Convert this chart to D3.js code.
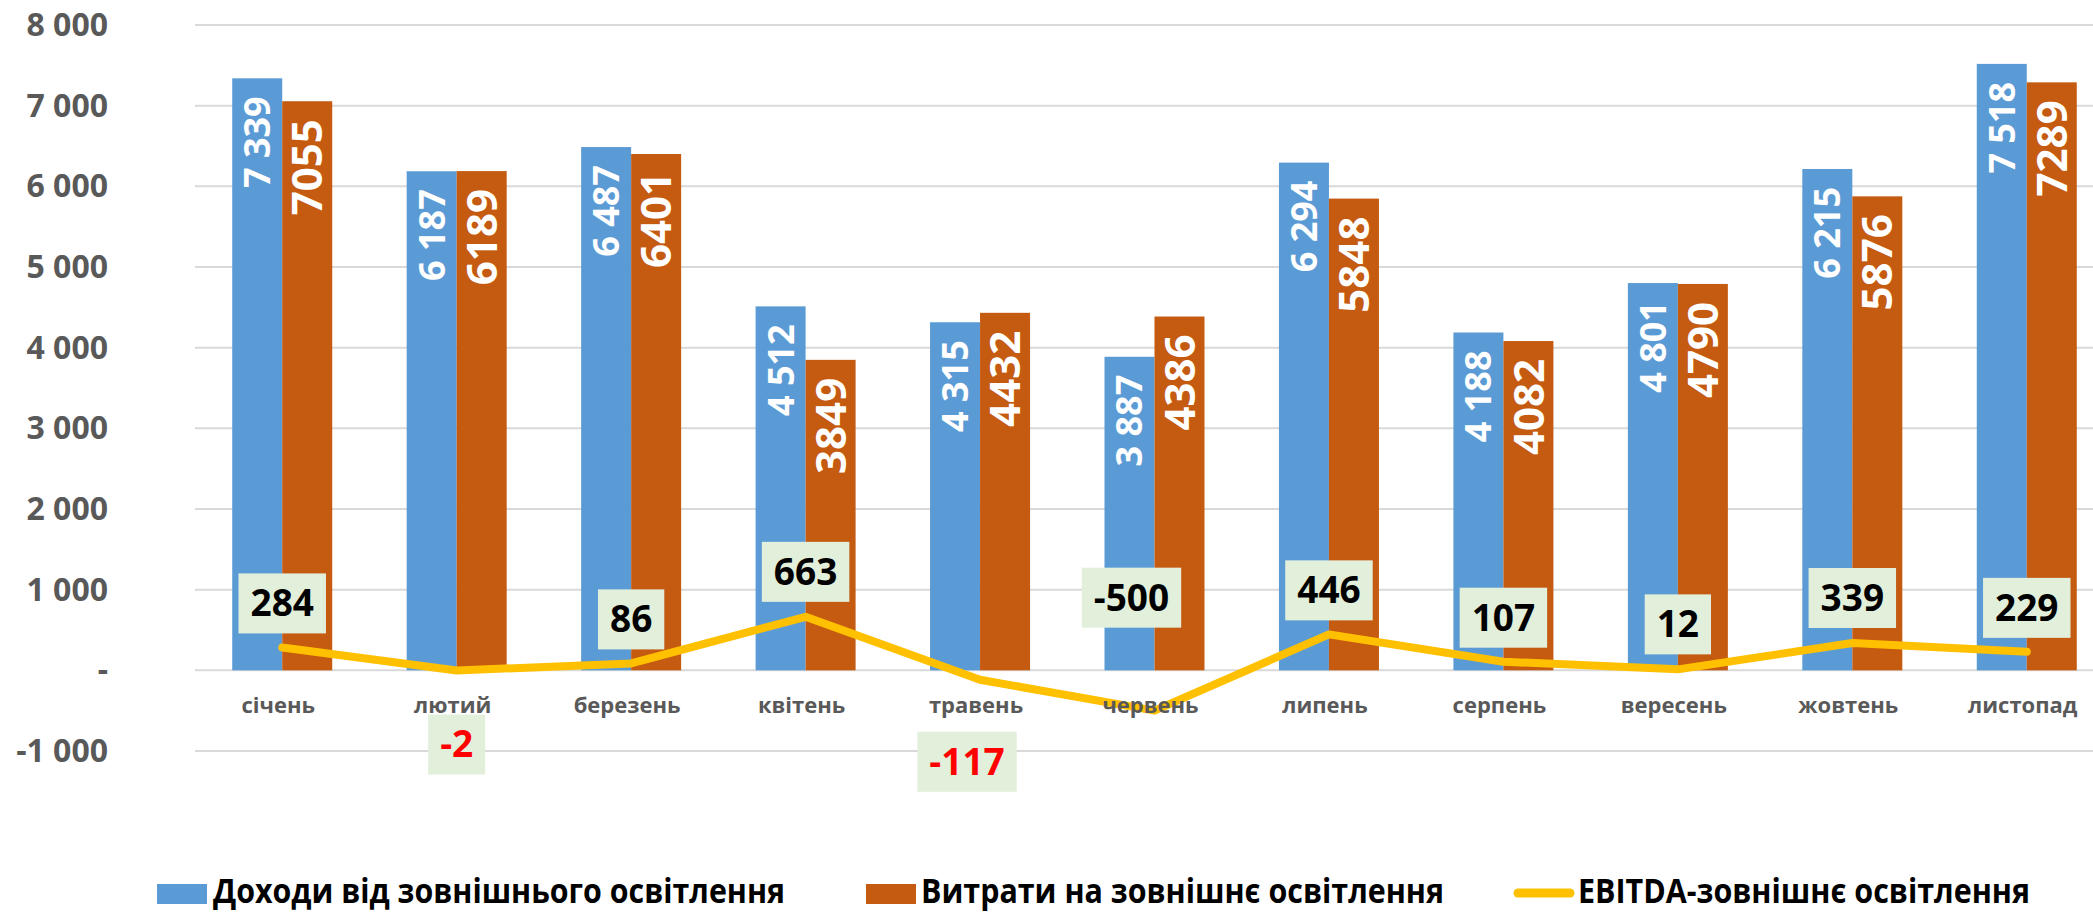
<!DOCTYPE html>
<html>
<head>
<meta charset="utf-8">
<script src="https://cdn.jsdelivr.net/npm/d3@7"></script>
<style>
  body { margin: 0; background: #fff; }
  svg { display: block; }
  text { font-family: "Open Sans", "DejaVu Sans", sans-serif; font-weight: 700; }
</style>
</head>
<body>
<div id="chart"></div>
<script>
// monthly data, thousands UAH
const months = ["січень", "лютий", "березень", "квітень", "травень", "червень",
  "липень", "серпень", "вересень", "жовтень", "листопад"];
const income = [7339, 6187, 6487, 4512, 4315, 3887, 6294, 4188, 4801, 6215, 7518];
const expenses = [7055, 6189, 6401, 3849, 4432, 4386, 5848, 4082, 4790, 5876, 7289];
const ebitda = [284, -2, 86, 663, -117, -500, 446, 107, 12, 339, 229];
const yTicks = [-1000, 0, 1000, 2000, 3000, 4000, 5000, 6000, 7000, 8000];
const seriesNames = ["Доходи від зовнішнього освітлення", "Витрати на зовнішнє освітлення", "EBITDA-зовнішнє освітлення"];

// where the EBITDA boxes were dragged to (offset of box centre from point)
const boxDy = [-44, 74, -44, -45, 82, -113, -44, -44, -45, -45, -44];
const boxDx = [0, 0, 0, 0, -13, -23, 0, 0, 0, 0, 0];
const redLabels = [false, true, false, false, true, false, false, false, false, false, false];

const W = 2093, H = 912;
const blue = "#5B9BD5", orange = "#C55A11", gold = "#FFC000";

const svg = d3.select("#chart").append("svg")
  .attr("width", W)
  .attr("height", H);

const x0 = d3.scaleBand().domain(months).range([195, 2114]);
const bw = x0.bandwidth();
const x1 = d3.scaleBand().domain([0, 1]).range([(bw - 100) / 2, (bw + 100) / 2]);
const y = d3.scaleLinear().domain([-1000, 8000]).range([751, 25]);

// excel-ish: space thousands, plain hyphen, dash for zero
const fmtSpace = v => v === 0 ? "-" : d3.format(",")(v).replace(/,/g, " ").replace("\u2212", "-");

// gridlines
svg.append("g").selectAll("line")
  .data(yTicks)
  .join("line")
  .attr("x1", 195).attr("x2", W)
  .attr("y1", d => y(d)).attr("y2", d => y(d))
  .attr("stroke", "#D9D9D9")
  .attr("stroke-width", 2);

// y axis labels
svg.append("g").selectAll("text")
  .data(yTicks)
  .join("text")
  .attr("x", 108)
  .attr("y", d => y(d) + 11)
  .attr("text-anchor", "end")
  .attr("font-size", 32)
  .attr("fill", "#595959")
  .text(fmtSpace);

// bars
const groups = svg.append("g").selectAll("g")
  .data(months)
  .join("g")
  .attr("transform", d => `translate(${x0(d)},0)`);

const barData = (m, i) => [
  { k: 0, v: income[i], color: blue, label: fmtSpace(income[i]), fs: 36 },
  { k: 1, v: expenses[i], color: orange, label: String(expenses[i]), fs: 42 }
];

groups.selectAll("rect")
  .data(barData)
  .join("rect")
  .attr("x", d => x1(d.k))
  .attr("width", x1.bandwidth())
  .attr("y", d => y(d.v))
  .attr("height", d => y(0) - y(d.v))
  .attr("fill", d => d.color);

groups.selectAll("text.bl")
  .data(barData)
  .join("text")
  .attr("class", "bl")
  .attr("transform", d => `translate(${x1(d.k) + x1.bandwidth() / 2 + d.fs * 0.36},${y(d.v) + 18}) rotate(-90)`)
  .attr("text-anchor", "end")
  .attr("font-size", d => d.fs)
  .attr("fill", "#fff")
  .text(d => d.label);

// EBITDA line
const cx = i => x0(months[i]) + bw / 2;
const line = d3.line()
  .x((d, i) => cx(i))
  .y(d => y(d));

svg.append("path")
  .datum(ebitda)
  .attr("d", line)
  .attr("fill", "none")
  .attr("stroke", gold)
  .attr("stroke-width", 8)
  .attr("stroke-linecap", "round")
  .attr("stroke-linejoin", "round");

// x axis labels
svg.append("g").selectAll("text")
  .data(months)
  .join("text")
  .attr("x", d => x0(d) + bw / 2 - 4)
  .attr("y", 713)
  .attr("text-anchor", "middle")
  .attr("font-size", 22)
  .attr("fill", "#595959")
  .text(d => d);

// EBITDA data labels
const lbl = svg.append("g").selectAll("g")
  .data(ebitda)
  .join("g")
  .attr("transform", (d, i) => `translate(${cx(i) + boxDx[i]},${y(d) + boxDy[i]})`);

lbl.append("rect");
lbl.append("text")
  .attr("text-anchor", "middle")
  .attr("y", 13)
  .attr("font-size", 37)
  .attr("fill", (d, i) => redLabels[i] ? "#FF0000" : "#000")
  .text(d => String(d));

lbl.each(function () {
  const g = d3.select(this);
  const w = g.select("text").node().getComputedTextLength() + 24;
  g.select("rect")
    .attr("x", -w / 2).attr("y", -30)
    .attr("width", w).attr("height", 60)
    .attr("fill", "#E2EFDA");
});

// legend
const legend = svg.append("g");
legend.append("rect").attr("x", 157).attr("y", 884).attr("width", 50).attr("height", 20).attr("fill", blue);
legend.append("rect").attr("x", 866).attr("y", 884).attr("width", 50).attr("height", 20).attr("fill", orange);
legend.append("line")
  .attr("x1", 1518).attr("x2", 1570).attr("y1", 893).attr("y2", 893)
  .attr("stroke", gold).attr("stroke-width", 9).attr("stroke-linecap", "round");

const legendText = [
  { x: 213, len: 572 },
  { x: 921, len: 523 },
  { x: 1578, len: 452 }
];
legend.selectAll("text")
  .data(legendText)
  .join("text")
  .attr("x", d => d.x)
  .attr("y", 903)
  .attr("font-size", 34)
  .attr("fill", "#000")
  .attr("textLength", d => d.len)
  .attr("lengthAdjust", "spacingAndGlyphs")
  .text((d, i) => seriesNames[i]);
</script>
</body>
</html>
